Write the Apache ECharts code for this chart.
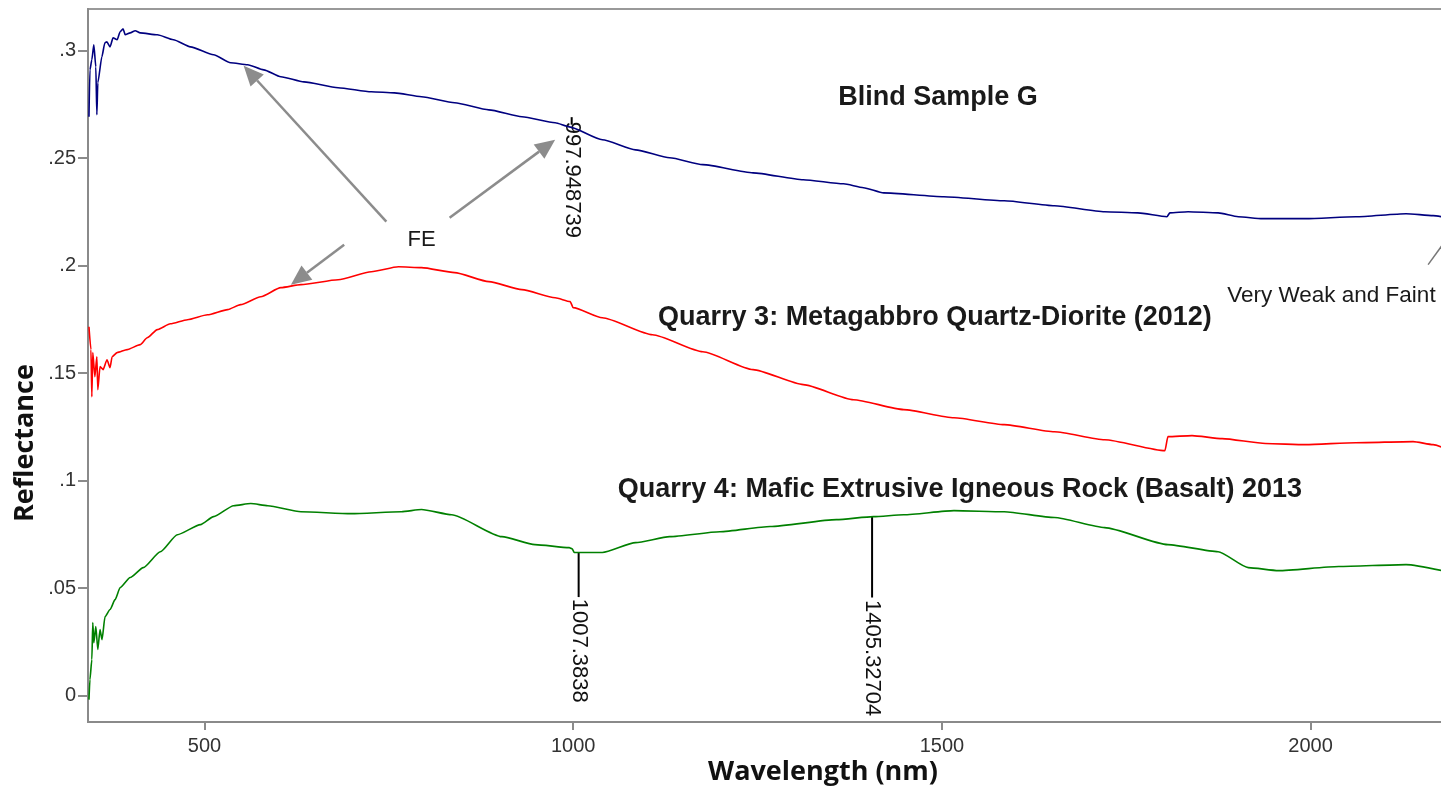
<!DOCTYPE html>
<html><head><meta charset="utf-8">
<script src="https://cdn.jsdelivr.net/npm/echarts@6/dist/echarts.min.js"></script>
<style>html,body{margin:0;padding:0;background:#fff}#c{width:1441px;height:789px}</style>
</head><body><div id="c"></div>
<script>
// ---- data: [wavelength (nm), reflectance] ----
const blindSampleG = [[343.3,0.2692],[344.6,0.2910],[347.2,0.2957],[349.9,0.3027],[352.6,0.2924],[354.0,0.2701],[355.3,0.2850],[360.8,0.2971],[364.9,0.3036],[367.6,0.3040],[371.9,0.3017],[376.0,0.3059],[381.5,0.3050],[385.6,0.3087],[389.6,0.3101],[392.4,0.3073],[399.2,0.3082],[406.0,0.3092],[412.8,0.3082],[436.0,0.3073],[457.8,0.3050],[480.9,0.3017],[512.3,0.2980],[535.4,0.2943],[558.6,0.2934],[580.4,0.2910],[603.5,0.2878],[634.9,0.2854],[681.2,0.2827],[726.2,0.2808],[757.5,0.2803],[794.3,0.2785],[839.2,0.2757],[885.6,0.2724],[930.5,0.2692],[975.5,0.2664],[994.6,0.2645],[1039.5,0.2585],[1084.5,0.2538],[1130.8,0.2501],[1175.8,0.2469],[1243.9,0.2431],[1312.0,0.2399],[1366.5,0.2380],[1393.7,0.2362],[1421.0,0.2338],[1502.7,0.2320],[1584.5,0.2301],[1652.6,0.2278],[1720.7,0.2250],[1765.7,0.2245],[1805.2,0.2227],[1809.2,0.2245],[1833.8,0.2250],[1874.6,0.2245],[1901.9,0.2227],[1934.6,0.2218],[1993.2,0.2218],[2061.3,0.2227],[2129.4,0.2241],[2166.2,0.2232],[2185.3,0.2222]];
const quarry3 = [[343.3,0.1715],[346.0,0.1609],[347.2,0.1390],[348.5,0.1595],[351.3,0.1483],[354.0,0.1576],[355.3,0.1423],[358.3,0.1530],[362.4,0.1516],[367.8,0.1562],[371.9,0.1525],[374.7,0.1576],[381.5,0.1595],[395.1,0.1609],[412.8,0.1632],[422.3,0.1664],[436.0,0.1702],[453.7,0.1729],[476.8,0.1748],[504.1,0.1771],[531.3,0.1795],[549.0,0.1818],[576.3,0.1855],[603.5,0.1897],[630.8,0.1911],[681.2,0.1934],[726.2,0.1971],[763.0,0.1994],[794.3,0.1990],[839.2,0.1967],[885.6,0.1925],[930.5,0.1888],[975.5,0.1850],[995.9,0.1832],[1000.0,0.1804],[1039.5,0.1757],[1107.6,0.1678],[1175.8,0.1599],[1243.9,0.1516],[1312.0,0.1446],[1380.1,0.1376],[1448.2,0.1330],[1516.4,0.1292],[1584.5,0.1260],[1652.6,0.1227],[1720.7,0.1190],[1802.5,0.1139],[1806.5,0.1204],[1839.2,0.1209],[1880.1,0.1195],[1938.7,0.1172],[1993.2,0.1167],[2061.3,0.1176],[2139.0,0.1181],[2166.2,0.1167],[2185.3,0.1144]];
const quarry4 = [[343.3,-0.0019],[344.6,0.0074],[347.2,0.0167],[348.5,0.0339],[349.9,0.0246],[352.6,0.0321],[355.3,0.0214],[358.3,0.0307],[361.0,0.0260],[365.1,0.0367],[371.9,0.0400],[378.7,0.0446],[385.6,0.0502],[399.2,0.0549],[416.9,0.0595],[440.1,0.0669],[463.2,0.0748],[494.6,0.0795],[512.3,0.0832],[539.5,0.0883],[562.7,0.0893],[585.8,0.0883],[630.8,0.0855],[698.9,0.0846],[767.0,0.0855],[794.3,0.0865],[835.2,0.0841],[903.3,0.0739],[948.2,0.0702],[994.6,0.0688],[998.6,0.0683],[1001.4,0.0665],[1039.5,0.0665],[1084.5,0.0711],[1130.8,0.0739],[1198.9,0.0762],[1267.0,0.0786],[1356.9,0.0818],[1407.3,0.0832],[1448.2,0.0841],[1516.4,0.0860],[1584.5,0.0855],[1652.6,0.0828],[1720.7,0.0781],[1806.5,0.0702],[1874.6,0.0669],[1915.5,0.0595],[1956.4,0.0581],[2038.1,0.0600],[2129.4,0.0609],[2185.3,0.0576]];

const xTicks = [500, 1000, 1500, 2000];
const xTickLabels = ['500', '1000', '1500', '2000'];
const yTicks = [0, 0.05, 0.1, 0.15, 0.2, 0.25, 0.3];
const yTickLabels = ['0', '.05', '.1', '.15', '.2', '.25', '.3'];

// series labels: [text, wavelength, reflectance]
const seriesLabels = [
  ['Blind Sample G', 1494.6, 0.2780],
  ['Quarry 3: Metagabbro Quartz-Diorite (2012)', 1490.5, 0.1757],
  ['Quarry 4: Mafic Extrusive Igneous Rock (Basalt) 2013', 1524.5, 0.0958]
];
// peak markers: [label, wavelength, line top, line bottom, text start]
const peakMarkers = [
  ['997.948739', 997.948739, 0.2690, 0.2655, 0.2669],
  ['1007.3838', 1007.3838, 0.0665, 0.0458, 0.0450],
  ['1405.32704', 1405.32704, 0.0832, 0.0456, 0.0444]
];
// arrows: [tail w, tail r, head w, head r]
const feArrows = [
  [746.6, 0.2204, 553.1, 0.2929],
  [832.4, 0.2222, 975.5, 0.2585],
  [689.4, 0.2097, 617.2, 0.1911]
];
const feLabel = ['FE', 794.3, 0.2120];
const faintLabel = ['Very Weak and Faint', 1886.9, 0.1860];
const faintPointer = [2159.4, 0.2004, 2190.7, 0.2152];
const xTitle = 'Wavelength (nm)';
const yTitle = 'Reflectance';

const chart = echarts.init(document.getElementById('c'));
const axisGray = '#8a8a8a';
const lineSeries = (name, data, color) => ({
  name, type: 'line', data, showSymbol: false, symbol: 'none',
  smooth: 0.2, smoothMonotone: 'x',
  lineStyle: { color, width: 1.6 }, animation: false, silent: true
});

chart.setOption({
  animation: false,
  backgroundColor: '#fff',
  grid: { left: 88, right: -6, top: 9, bottom: 67, show: true, borderColor: '#999', borderWidth: 2,
    containLabel: false, outerBoundsMode: 'none' },
  xAxis: {
    type: 'value', min: 342, max: 2185,
    splitLine: { show: false },
    axisLine: { show: true, onZero: false, lineStyle: { color: axisGray, width: 2 } },
    axisTick: { show: true, customValues: xTicks, length: 8, lineStyle: { color: axisGray, width: 2 } },
    axisLabel: { customValues: xTicks, color: '#333', fontSize: 20, fontFamily: 'Liberation Sans', margin: 14,
      formatter: v => { const i = xTicks.indexOf(v); return i >= 0 ? xTickLabels[i] : ''; } }
  },
  yAxis: {
    type: 'value', min: -0.0123, max: 0.3193,
    splitLine: { show: false },
    axisLine: { show: true, onZero: false, lineStyle: { color: axisGray, width: 2 } },
    axisTick: { show: true, customValues: yTicks, length: 10, lineStyle: { color: axisGray, width: 2 } },
    axisLabel: { customValues: yTicks, color: '#333', fontSize: 20, fontFamily: 'Liberation Sans', margin: 12,
      formatter: v => { const i = yTicks.findIndex(t => Math.abs(t - v) < 1e-9); return i >= 0 ? yTickLabels[i] : ''; } }
  },
  series: [
    lineSeries('Blind Sample G', blindSampleG, '#00007f'),
    lineSeries('Quarry 3', quarry3, '#ff0000'),
    lineSeries('Quarry 4', quarry4, '#008000')
  ]
});

function px(w, r) { return chart.convertToPixel({ gridIndex: 0 }, [w, r]); }

const g = [];
const arrowColor = '#8c8c8c';
function arrow(a, b, headLen, headW) {
  const dx = b[0] - a[0], dy = b[1] - a[1];
  const L = Math.hypot(dx, dy), ux = dx / L, uy = dy / L;
  const bx = b[0] - ux * headLen, by = b[1] - uy * headLen;
  g.push({ type: 'line', shape: { x1: a[0], y1: a[1], x2: bx, y2: by }, style: { stroke: arrowColor, lineWidth: 2.5 }, silent: true });
  g.push({ type: 'polygon', shape: { points: [[b[0], b[1]], [bx - uy * headW, by + ux * headW], [bx + uy * headW, by - ux * headW]] }, style: { fill: arrowColor }, silent: true });
}
feArrows.forEach(a => arrow(px(a[0], a[1]), px(a[2], a[3]), 20, 9));

const lbl = { fontFamily: 'Liberation Sans', fontWeight: 'bold', fontSize: 27, fill: '#1a1a1a' };
seriesLabels.forEach(s => {
  const p = px(s[1], s[2]);
  g.push({ type: 'text', x: p[0], y: p[1], style: Object.assign({ text: s[0], align: 'center', verticalAlign: 'middle' }, lbl), silent: true });
});

const fp = px(feLabel[1], feLabel[2]);
g.push({ type: 'text', x: fp[0], y: fp[1], style: { text: feLabel[0], align: 'center', verticalAlign: 'middle', fontFamily: 'Liberation Sans', fontSize: 22, fill: '#1a1a1a' }, silent: true });

const vp = px(faintLabel[1], faintLabel[2]);
g.push({ type: 'text', x: vp[0], y: vp[1], style: { text: faintLabel[0], align: 'left', verticalAlign: 'middle', fontFamily: 'Liberation Sans', fontSize: 22.5, fill: '#1a1a1a' }, silent: true });
const f1 = px(faintPointer[0], faintPointer[1]), f2 = px(faintPointer[2], faintPointer[3]);
g.push({ type: 'line', shape: { x1: f1[0], y1: f1[1], x2: f2[0], y2: f2[1] }, style: { stroke: '#777', lineWidth: 1.5 }, silent: true });

peakMarkers.forEach(m => {
  const t = px(m[1], m[2]), b = px(m[1], m[3]), s = px(m[1], m[4]);
  g.push({ type: 'line', shape: { x1: t[0], y1: t[1], x2: b[0], y2: b[1] }, style: { stroke: '#000', lineWidth: 2 }, silent: true });
  g.push({ type: 'text', x: s[0], y: s[1], rotation: -Math.PI / 2,
    style: { text: m[0], align: 'left', verticalAlign: 'middle', fontFamily: 'Liberation Sans', fontSize: 22, fill: '#111' }, silent: true });
});

// axis titles
g.push({ type: 'text', x: 823, y: 772, style: { text: xTitle, align: 'center', verticalAlign: 'middle', fontFamily: 'Open Sans', fontWeight: 'bold', fontSize: 27, fill: '#111' }, silent: true });
g.push({ type: 'text', x: 25, y: 443, rotation: Math.PI / 2, style: { text: yTitle, align: 'center', verticalAlign: 'middle', fontFamily: 'Open Sans', fontWeight: 'bold', fontSize: 27, fill: '#111' }, silent: true });

chart.setOption({ graphic: { elements: g } });
</script>
</body></html>
